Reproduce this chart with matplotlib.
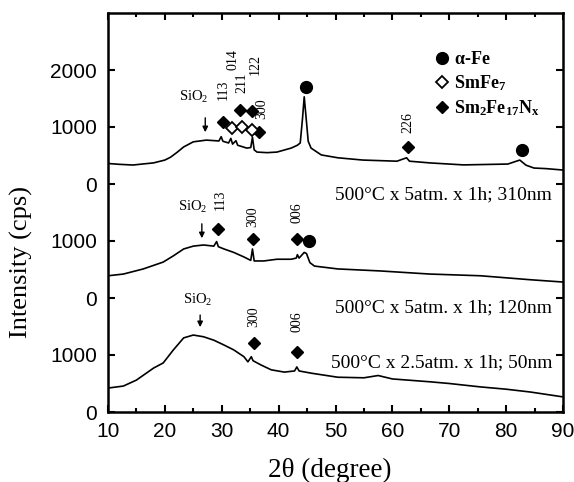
import numpy as np
import matplotlib
matplotlib.use("Agg")
import matplotlib.pyplot as plt
from matplotlib.lines import Line2D

plt.rcParams["font.family"] = "Liberation Serif"
plt.rcParams["mathtext.fontset"] = "custom"
plt.rcParams["mathtext.rm"] = "Liberation Serif"
plt.rcParams["mathtext.it"] = "Liberation Serif:italic"
plt.rcParams["mathtext.bf"] = "Liberation Serif:bold"

# vertical offsets of the stacked patterns (cps)
off_310, off_120, off_50 = 4000, 2000, 0

# XRD patterns: 2theta (deg) / intensity (cps)
x_310 = [10, 12, 14.4, 16, 18, 20, 21, 22.2, 23.3, 25, 27.3, 29.5, 29.9, 30.2, 31.2,
         31.6, 31.9, 32.5, 32.8, 34.4, 35.1, 35.4, 35.7, 36.2, 38, 39.7, 42.2, 43.3,
         43.8, 44.2, 44.5, 44.8, 45.2, 45.7, 47.5, 50.4, 54.8, 60.8, 62.5, 63, 66.6,
         72.5, 80.3, 82.4, 83.5, 84.9, 87, 90]
y_310 = [360, 345, 333, 350, 370, 420, 470, 560, 650, 740, 770, 755, 830, 750, 720,
         800, 700, 760, 680, 630, 640, 820, 600, 560, 550, 560, 630, 680,
         720, 1150, 1530, 1200, 750, 630, 510, 460, 420, 400, 460, 400, 370,
         335, 350, 420, 330, 280, 270, 245]

x_120 = [10, 12.7, 16.2, 19.7, 21.5, 23.3, 25, 26.8, 28.6, 29.1, 29.4, 30.4, 32.1,
         33.9, 35.1, 35.4, 35.7, 37.4, 39.7, 42.2, 43.1, 43.3, 43.6, 44.5, 44.9,
         45.5, 46.3, 50.4, 57.8, 66.6, 75.5, 84.3, 90]
y_120 = [390, 420, 510, 630, 740, 860, 910, 930, 910, 990, 900, 860, 800,
         720, 660, 860, 650, 650, 680, 680, 700, 760, 700, 800, 780,
         620, 560, 510, 475, 420, 390, 320, 280]

x_50 = [10, 12.7, 15, 18, 19.7, 21.5, 23.3, 25, 26.8, 28.6, 30.4, 32.1, 33.9, 34.6,
        35.2, 35.5, 36.9, 38.7, 41, 42.8, 43.2, 43.6, 45.8, 50.4, 55, 57.5, 60,
        66.6, 70, 75.5, 80, 84.3, 90]
y_50 = [420, 455, 560, 770, 860, 1090, 1300, 1350, 1320, 1260, 1175, 1090, 970, 880,
        970, 900, 825, 740, 700, 720, 790, 720, 680, 610, 600, 640, 580,
        530, 500, 440, 400, 350, 265]

# phase markers (2theta, cps within each pattern)
smfen_310_x = [30.2, 33.2, 35.3, 36.5, 62.7]
smfen_310_y = [1090, 1300, 1280, 910, 650]
smfe7_310_x = [31.8, 33.6, 35.3]
smfe7_310_y = [980, 1000, 950]
fe_310_x = [44.9, 82.8]
fe_310_y = [1700, 600]

smfen_120_x = [29.3, 35.5, 43.2]
smfen_120_y = [1210, 1035, 1035]
fe_120_x = [45.3]
fe_120_y = [1000]

smfen_50_x = [35.7, 43.2]
smfen_50_y = [1210, 1050]

# hkl labels (text, 2theta, cps)
hkl_310 = [("113", 30.2, 1650), ("014", 32.0, 2175), ("211", 33.6, 1770),
           ("122", 35.9, 2090), ("300", 37.1, 1315), ("226", 62.7, 1070)]
hkl_120 = [("113", 29.7, 1720), ("300", 35.5, 1420), ("006", 43.2, 1490)]
hkl_50 = [("300", 35.7, 1670), ("006", 43.2, 1580)]

yticks = [0, 1000, 2000, 3000, 4000, 5000, 6000]
ytick_labels = ["0", "1000", "0", "1000", "0", "1000", "2000"]

fig = plt.figure(figsize=(5.74, 4.82), dpi=100)
ax = fig.add_axes([108 / 574, 1 - 412 / 482, 455 / 574, 399 / 482])

for xs, ys, off in [(x_310, y_310, off_310), (x_120, y_120, off_120), (x_50, y_50, off_50)]:
    ax.plot(xs, np.array(ys) + off, color="k", lw=1.2)

dia = dict(marker="D", ls="none", color="k", ms=6.5)
ax.plot(smfen_310_x, np.array(smfen_310_y) + off_310, **dia)
ax.plot(smfen_120_x, np.array(smfen_120_y) + off_120, **dia)
ax.plot(smfen_50_x, np.array(smfen_50_y) + off_50, **dia)
ax.plot(smfe7_310_x, np.array(smfe7_310_y) + off_310, marker="D", ls="none",
        mfc="white", mec="k", mew=1.3, ms=6.5)
ax.plot(fe_310_x, np.array(fe_310_y) + off_310, "o", color="k", ms=8.5)
ax.plot(fe_120_x, np.array(fe_120_y) + off_120, "o", color="k", ms=8.5)

for labels, off in [(hkl_310, off_310), (hkl_120, off_120), (hkl_50, off_50)]:
    for t, xx, yy in labels:
        ax.text(xx, yy + off, t, rotation=90, ha="center", va="center", fontsize=10)

# SiO2 halo arrows
for tx, ty, axx, y0, y1, off in [(25.1, 1525, 27.1, 1210, 860, off_310),
                                 (24.9, 1600, 26.5, 1350, 1000, off_120),
                                 (25.8, 1965, 26.2, 1750, 1440, off_50)]:
    ax.text(tx, ty + off, "SiO$_2$", ha="center", va="center", fontsize=10.5)
    ax.annotate("", xy=(axx, y1 + off), xytext=(axx, y0 + off),
                arrowprops=dict(arrowstyle="-|>", color="k", lw=1.0, mutation_scale=8))

cond = dict(ha="right", va="center", fontsize=14)
ax.text(88.1, 3807, "500°C x 5atm. x 1h; 310nm", **cond)
ax.text(88.1, 1825, "500°C x 5atm. x 1h; 120nm", **cond)
ax.text(88.1, 860, "500°C x 2.5atm. x 1h; 50nm", **cond)

handles = [Line2D([], [], marker="o", ls="none", color="k", ms=8.5),
           Line2D([], [], marker="D", ls="none", mfc="white", mec="k", mew=1.3, ms=6.5),
           Line2D([], [], marker="D", ls="none", color="k", ms=6.5)]
names = [r"$\mathbf{\alpha}$-Fe", r"SmFe$_\mathbf{7}$", r"Sm$_\mathbf{2}$Fe$_\mathbf{17}$N$_\mathbf{x}$"]
ax.legend(handles, names, loc="upper left", bbox_to_anchor=(0.72, 0.905), frameon=False,
          handlelength=0.7, handletextpad=0.3, labelspacing=0.3, borderpad=0,
          borderaxespad=0, prop=dict(family="Liberation Serif", weight="bold", size=13))

ax.set_xlim(10, 90)
ax.set_ylim(0, 7000)
ax.set_xticks(np.arange(10, 91, 10))
ax.set_xticks(np.arange(15, 90, 10), minor=True)
ax.set_yticks(yticks, ytick_labels)
ax.tick_params(which="both", direction="in", top=True, right=True, width=1.5,
               labelsize=15, labelfontfamily="Liberation Sans")
ax.tick_params(which="major", length=5)
ax.tick_params(which="minor", length=3)
ax.tick_params(axis="y", pad=8)
ax.tick_params(axis="x", pad=7)
for s in ax.spines.values():
    s.set_linewidth(1.8)

ax.set_xlabel("2θ (degree)", fontsize=19.5)
ax.set_ylabel("Intensity (cps)", fontsize=19)
ax.xaxis.set_label_coords(0.488, -0.115)
ax.yaxis.set_label_coords(-0.165, 0.375)

fig.savefig("out.png", dpi=100)
